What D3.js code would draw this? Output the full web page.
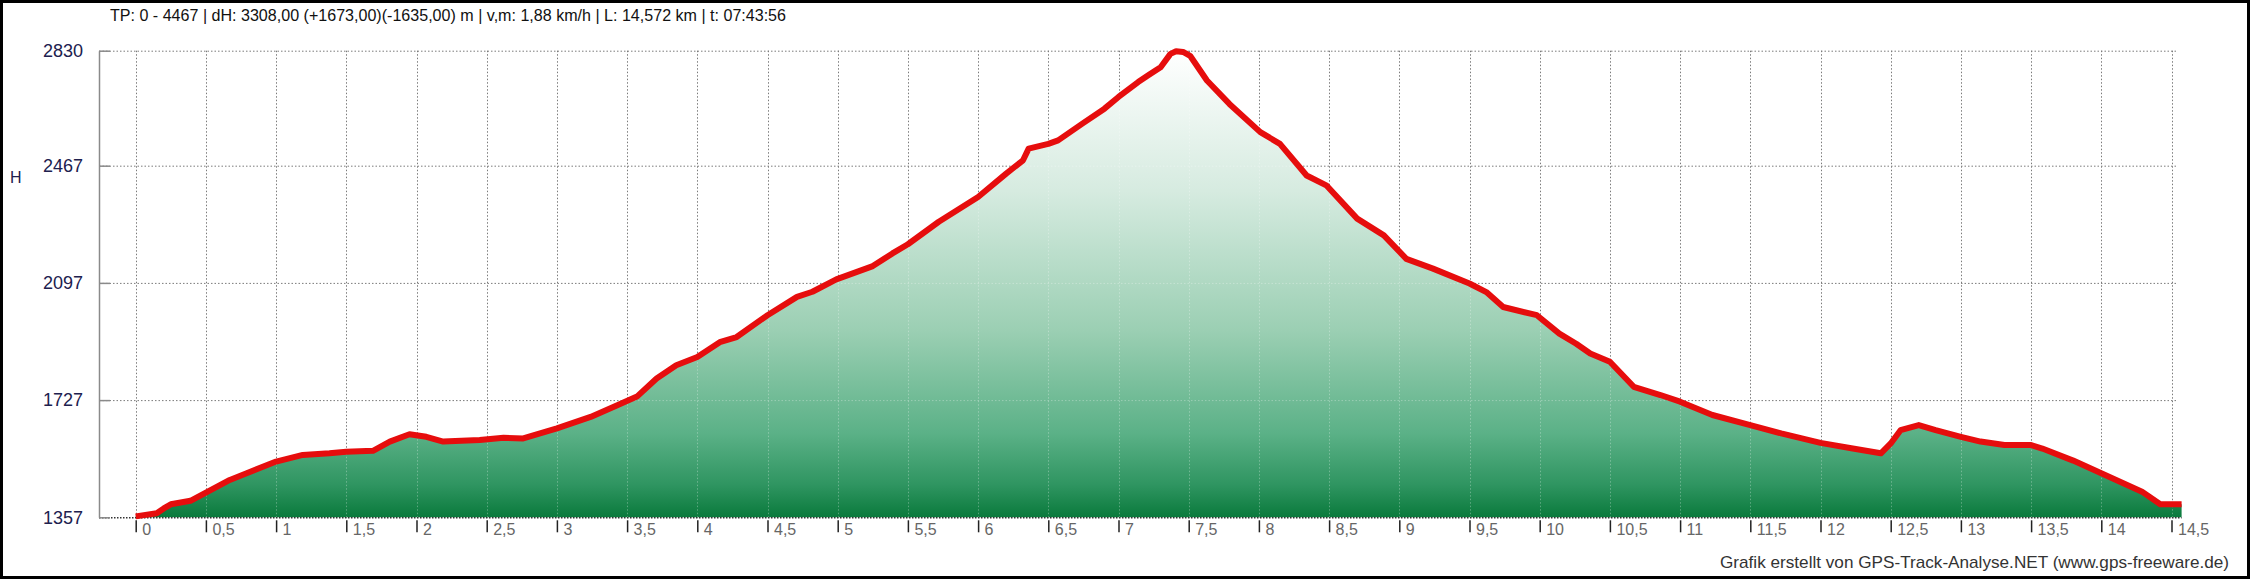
<!DOCTYPE html>
<html>
<head>
<meta charset="utf-8">
<title>Höhenprofil</title>
<script src="https://d3js.org/d3.v7.min.js"></script>
<style>
  body { margin: 0; background: #fff; }
  svg { display: block; font-family: "Liberation Sans", Arial, sans-serif; }
</style>
</head>
<body>
<svg width="2250" height="579"></svg>
<script>
// track profile: distance in km, altitude in m
const distKm = [0, 0.15, 0.2, 0.25, 0.39, 0.5, 0.67, 0.79, 1.0, 1.19, 1.38, 1.5, 1.69, 1.81, 1.95, 2.07, 2.19,
  2.45, 2.62, 2.76, 3.0, 3.24, 3.43, 3.57, 3.71, 3.85, 4.0, 4.16, 4.28, 4.5, 4.71, 4.82, 4.99, 5.25, 5.39,
  5.5, 5.72, 6.0, 6.2, 6.32, 6.36, 6.5, 6.57, 6.74, 6.9, 7.0, 7.14, 7.22, 7.3, 7.37, 7.41, 7.46, 7.51, 7.63,
  7.79, 8.01, 8.15, 8.34, 8.48, 8.7, 8.89, 9.05, 9.24, 9.5, 9.62, 9.74, 9.98, 10.14, 10.26, 10.36, 10.5,
  10.67, 10.86, 11.0, 11.23, 11.5, 11.72, 12.0, 12.23, 12.43, 12.5, 12.57, 12.7, 12.82, 13.0, 13.14, 13.31,
  13.5, 13.58, 13.8, 14.0, 14.29, 14.42, 14.572];
const altM = [1360, 1370, 1385, 1398, 1409, 1435, 1475, 1496, 1533, 1554, 1559, 1564, 1567, 1596, 1619, 1611, 1596,
  1601, 1608, 1606, 1638, 1674, 1711, 1738, 1795, 1837, 1863, 1910, 1926, 1995, 2053, 2069, 2108, 2150, 2190,
  2219, 2290, 2368, 2442, 2484, 2521, 2536, 2547, 2599, 2647, 2684, 2731, 2755, 2778, 2820, 2828, 2826, 2814, 2736,
  2662, 2573, 2536, 2436, 2405, 2300, 2247, 2173, 2142, 2095, 2068, 2021, 1995, 1937, 1905, 1874, 1848,
  1769, 1743, 1722, 1680, 1648, 1622, 1592, 1574, 1559, 1590, 1632, 1648, 1632, 1611, 1596, 1585,
  1585, 1574, 1536, 1496, 1438, 1398, 1398];

const yTicks = [1357, 1727, 2097, 2467, 2830];
const xTicks = [0, 0.5, 1, 1.5, 2, 2.5, 3, 3.5, 4, 4.5, 5, 5.5, 6, 6.5, 7, 7.5, 8, 8.5, 9, 9.5, 10, 10.5,
  11, 11.5, 12, 12.5, 13, 13.5, 14, 14.5];
const xTickLabels = ["0", "0,5", "1", "1,5", "2", "2,5", "3", "3,5", "4", "4,5", "5", "5,5", "6", "6,5", "7", "7,5",
  "8", "8,5", "9", "9,5", "10", "10,5", "11", "11,5", "12", "12,5", "13", "13,5", "14", "14,5"];

const headerText = "TP: 0 - 4467 | dH: 3308,00  (+1673,00)(-1635,00) m | v,m: 1,88 km/h | L: 14,572 km | t: 07:43:56";
const creditText = "Grafik erstellt von GPS-Track-Analyse.NET (www.gps-freeware.de)";

const data = distKm.map((d, i) => ({ km: d, h: altM[i] }));

const svg = d3.select('svg');
const axisLeftX = 99, gridRight = 2178;

const x = d3.scaleLinear().domain([0, 14.5]).range([135.7, 2171.5]);
const y = d3.scaleLinear().domain([1357, 2830]).range([517.3, 50.7]);

// gradient for the area
const grad = svg.append('defs').append('linearGradient')
  .attr('id', 'fillGrad')
  .attr('gradientUnits', 'userSpaceOnUse')
  .attr('x1', 0).attr('x2', 0)
  .attr('y1', y(2830)).attr('y2', y(1357));
[[0, '#ffffff'], [0.3, '#d6ebe0'], [0.6, '#9bcfb3'], [0.82, '#5bb187'], [0.93, '#2f9561'], [1, '#0a7a3c']]
  .forEach(s => grad.append('stop').attr('offset', s[0]).attr('stop-color', s[1]));

const area = d3.area().x(d => x(d.km)).y0(y(1357)).y1(d => y(d.h));
const line = d3.line().x(d => x(d.km)).y(d => y(d.h));

svg.select('defs').append('clipPath').attr('id', 'areaClip')
  .append('path').attr('d', area(data));

function drawGrid(g, color, op) {
  g.selectAll('.hg').data(yTicks.slice(1)).enter().append('line')
    .attr('x1', axisLeftX).attr('x2', gridRight)
    .attr('y1', d => y(d) + 0.5).attr('y2', d => y(d) + 0.5)
    .attr('stroke', color).attr('stroke-opacity', op).attr('stroke-dasharray', '1.5,2');
  g.selectAll('.vg').data(xTicks).enter().append('line')
    .attr('x1', d => Math.round(x(d)) + 0.5).attr('x2', d => Math.round(x(d)) + 0.5)
    .attr('y1', y(2830)).attr('y2', y(1357))
    .attr('stroke', color).attr('stroke-opacity', op).attr('stroke-dasharray', '1.5,2');
}

drawGrid(svg.append('g'), '#7a7a7a', 1);

svg.append('path').attr('d', area(data)).attr('fill', 'url(#fillGrad)');

drawGrid(svg.append('g').attr('clip-path', 'url(#areaClip)'), '#ffffff', 0.3);

// baseline
svg.append('line')
  .attr('x1', axisLeftX).attr('x2', x(14.572))
  .attr('y1', y(1357) + 0.5).attr('y2', y(1357) + 0.5)
  .attr('stroke', '#333').attr('stroke-width', 1.5).attr('stroke-dasharray', '1.5,1.5');

// y axis
const yAxis = svg.append('g').attr('transform', `translate(${axisLeftX},0)`)
  .call(d3.axisLeft(y).tickValues(yTicks).tickSize(-11).tickPadding(16).tickSizeOuter(0)
    .tickFormat(d => String(d)));
yAxis.select('.domain').attr('stroke', '#8a8a8a').attr('stroke-width', 1.5);
yAxis.selectAll('.tick line').attr('stroke', '#8a8a8a').attr('stroke-width', 1.5);
yAxis.selectAll('.tick text').attr('font-size', 18).attr('fill', '#20204e')
  .attr('font-family', '"Liberation Sans", Arial, sans-serif');

// x axis
const xAxis = svg.append('g').attr('transform', `translate(0,${y(1357) + 3})`)
  .call(d3.axisBottom(x).tickValues(xTicks).tickSize(12).tickSizeOuter(0)
    .tickFormat((d, i) => xTickLabels[i]));
xAxis.select('.domain').remove();
xAxis.selectAll('.tick line').attr('stroke', '#222').attr('stroke-width', 1.5);
xAxis.selectAll('.tick text')
  .attr('text-anchor', 'start').attr('x', 6).attr('y', 3).attr('dy', '0.71em')
  .attr('font-size', 16).attr('fill', '#666')
  .attr('font-family', '"Liberation Sans", Arial, sans-serif');

// profile line
svg.append('path').attr('d', line(data))
  .attr('fill', 'none').attr('stroke', '#e60d0d')
  .attr('stroke-width', 6).attr('stroke-linejoin', 'round');

// texts
svg.append('text').attr('x', 110).attr('y', 20.5)
  .attr('font-size', 17).attr('fill', '#111')
  .attr('font-family', '"Liberation Sans Narrow", "Arial Narrow", sans-serif')
  .attr('textLength', 676).attr('lengthAdjust', 'spacingAndGlyphs')
  .text(headerText);

svg.append('text').attr('x', 10).attr('y', 183)
  .attr('font-size', 16).attr('fill', '#20204e')
  .text('H');

svg.append('text').attr('x', 2229).attr('y', 568)
  .attr('text-anchor', 'end').attr('font-size', 17).attr('fill', '#333')
  .attr('textLength', 509).attr('lengthAdjust', 'spacingAndGlyphs')
  .text(creditText);

// frame
svg.append('rect').attr('x', 1.5).attr('y', 1.5).attr('width', 2247).attr('height', 576)
  .attr('fill', 'none').attr('stroke', '#000').attr('stroke-width', 3);
</script>
</body>
</html>
